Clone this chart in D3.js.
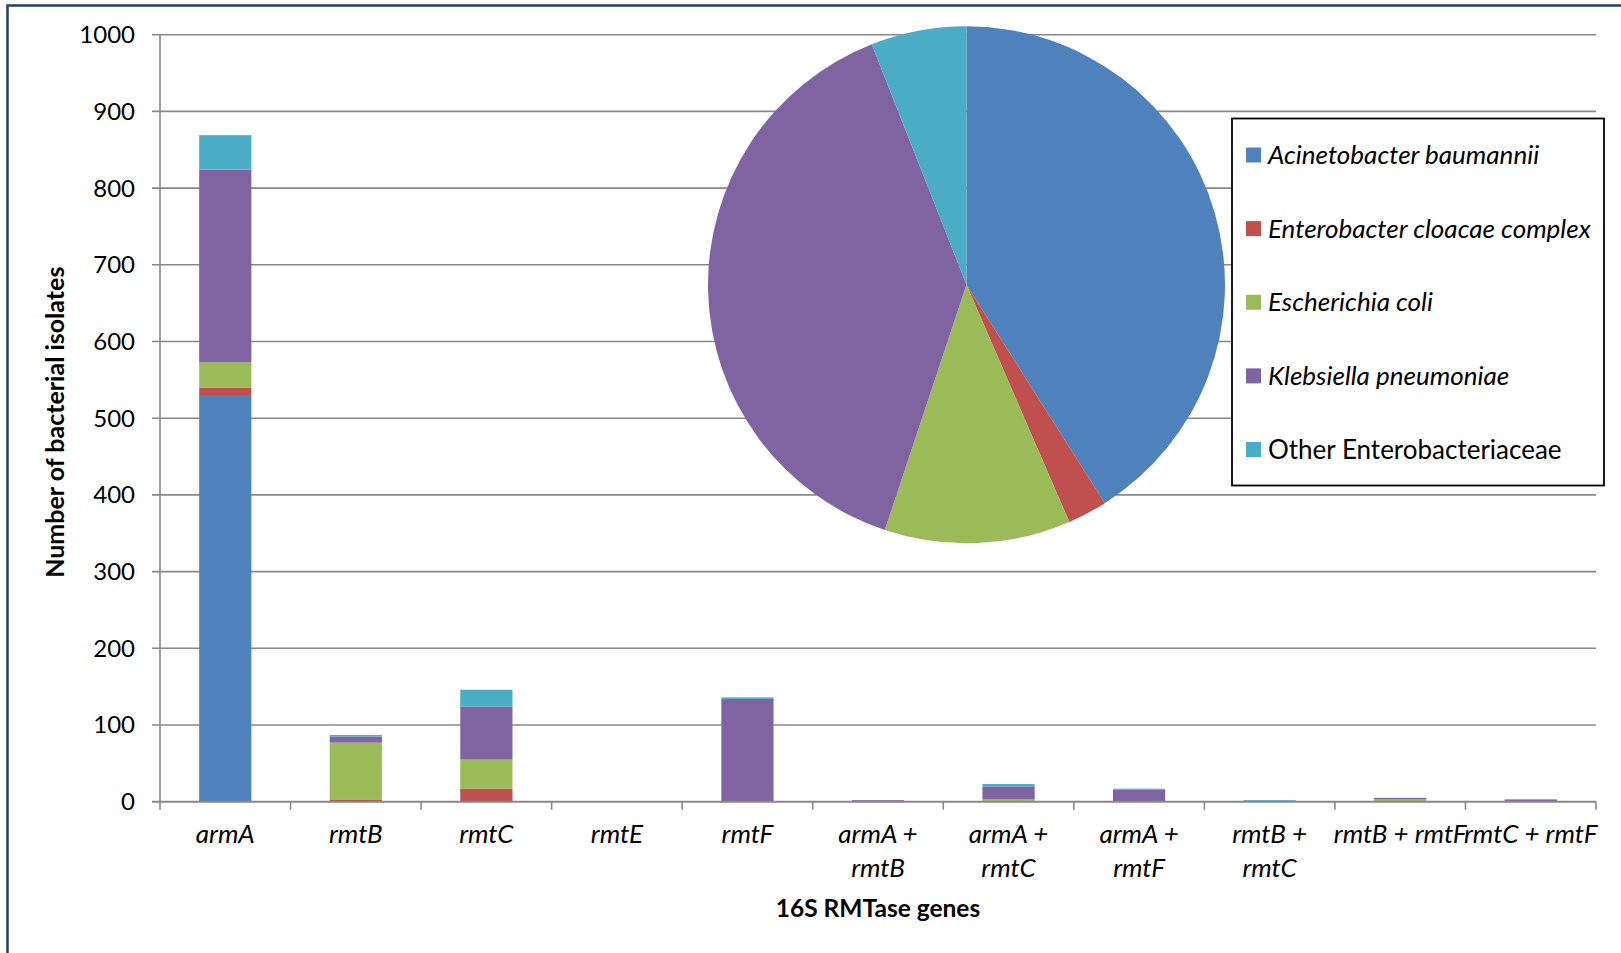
<!DOCTYPE html>
<html>
<head>
<meta charset="utf-8">
<script src="https://cdn.jsdelivr.net/npm/d3@7"></script>
<style>
  html, body { margin: 0; padding: 0; background: #ffffff; }
  svg { display: block; font-family: Lato, "Open Sans", sans-serif; }
</style>
</head>
<body>
<svg id="chart" width="1621" height="953"></svg>
<script>
// 16S RMTase genes (x categories), "\n" marks the wrapped label lines
const categories = [
  'armA', 'rmtB', 'rmtC', 'rmtE', 'rmtF',
  'armA +\nrmtB', 'armA +\nrmtC', 'armA +\nrmtF',
  'rmtB +\nrmtC', 'rmtB + rmtF', 'rmtC + rmtF',
];

const species = [
  'Acinetobacter baumannii',
  'Enterobacter cloacae complex',
  'Escherichia coli',
  'Klebsiella pneumoniae',
  'Other Enterobacteriaceae',
];
const italicSpecies = [true, true, true, true, false];
const colors = ['#4f81bd', '#c0504d', '#9bbb59', '#8064a2', '#4bacc6'];

// isolates per gene, one array per species (same order as categories)
const acinetobacter = [529, 0, 0, 0, 0, 0, 0, 0, 0, 0, 0];
const enterobacter = [11, 3, 17, 0, 0, 0, 1, 0, 0, 0, 0];
const ecoli = [33, 74, 38, 0, 0, 0, 2, 0, 0, 3, 0];
const klebsiella = [251, 8, 69, 0, 134, 2, 17, 16, 0, 2, 3];
const otherEntero = [45, 2, 22, 0, 2, 0, 3, 1, 2, 0, 0];

const yTicks = [0, 100, 200, 300, 400, 500, 600, 700, 800, 900, 1000];

const series = [acinetobacter, enterobacter, ecoli, klebsiella, otherEntero];

const rows = categories.map((c, i) => {
  const row = { category: c };
  species.forEach((s, j) => { row[s] = series[j][i]; });
  return row;
});

const svg = d3.select('#chart');

// outer frame (only left and top edges show)
svg.append('path')
  .attr('d', 'M7.5,953 L7.5,5.5 L1621,5.5')
  .attr('fill', 'none')
  .attr('stroke', '#243f60')
  .attr('stroke-width', 2.5);

const plot = { left: 160, right: 1596, top: 34.7, bottom: 801.7 };

const x = d3.scaleBand()
  .domain(categories)
  .range([plot.left, plot.right])
  .paddingInner(0.6)
  .paddingOuter(0.3);

const y = d3.scaleLinear()
  .domain([0, 1000])
  .range([plot.bottom, plot.top]);

const gridColor = '#888888';

// horizontal gridlines with short left ticks
svg.append('g')
  .selectAll('line')
  .data(yTicks.filter((d) => d > 0))
  .join('line')
  .attr('x1', plot.left - 8)
  .attr('x2', plot.right)
  .attr('y1', (d) => y(d))
  .attr('y2', (d) => y(d))
  .attr('stroke', gridColor)
  .attr('stroke-width', 1.6);

// y axis line
svg.append('line')
  .attr('x1', plot.left).attr('x2', plot.left)
  .attr('y1', plot.top).attr('y2', plot.bottom)
  .attr('stroke', gridColor)
  .attr('stroke-width', 1.6);

// y tick labels
svg.append('g')
  .selectAll('text')
  .data(yTicks)
  .join('text')
  .attr('x', 135)
  .attr('y', (d) => y(d))
  .attr('dy', '0.35em')
  .attr('text-anchor', 'end')
  .attr('font-size', 24)
  .attr('fill', '#000')
  .text((d) => d);

// stacked bars
const stack = d3.stack().keys(species);
const layers = stack(rows);

svg.append('g')
  .selectAll('g')
  .data(layers)
  .join('g')
  .attr('fill', (d, i) => colors[i])
  .selectAll('rect')
  .data((d) => d.filter((p) => p[1] > p[0]))
  .join('rect')
  .attr('x', (d) => x(d.data.category))
  .attr('width', x.bandwidth())
  .attr('y', (d) => y(d[1]))
  .attr('height', (d) => y(d[0]) - y(d[1]));

// x axis line and ticks
svg.append('line')
  .attr('x1', plot.left - 8).attr('x2', plot.right)
  .attr('y1', plot.bottom).attr('y2', plot.bottom)
  .attr('stroke', gridColor)
  .attr('stroke-width', 2);

const step = x.step();
const tickXs = categories.map((c) => x(c) - step * 0.3).concat([plot.right]);
svg.append('g')
  .selectAll('line')
  .data(tickXs)
  .join('line')
  .attr('x1', (d) => d).attr('x2', (d) => d)
  .attr('y1', plot.bottom).attr('y2', plot.bottom + 8)
  .attr('stroke', gridColor)
  .attr('stroke-width', 1.6);

// x labels
const xLabels = svg.append('g')
  .selectAll('text')
  .data(categories)
  .join('text')
  .attr('x', (d) => x(d) + x.bandwidth() / 2)
  .attr('y', 843)
  .attr('text-anchor', 'middle')
  .attr('font-size', 26)
  .attr('font-style', 'italic')
  .attr('fill', '#000');
xLabels.selectAll('tspan')
  .data((d) => d.split('\n'))
  .join('tspan')
  .attr('x', function () { return d3.select(this.parentNode).attr('x'); })
  .attr('dy', (d, i) => (i === 0 ? 0 : 33.5))
  .text((d) => d);

// axis titles
svg.append('text')
  .attr('x', (plot.left + plot.right) / 2)
  .attr('y', 917)
  .attr('text-anchor', 'middle')
  .attr('font-size', 24.5)
  .attr('font-weight', 'bold')
  .text('16S RMTase genes');

svg.append('text')
  .attr('transform', `translate(64,${(plot.top + plot.bottom) / 2 + 4}) rotate(-90)`)
  .attr('text-anchor', 'middle')
  .attr('font-size', 25)
  .attr('font-weight', 'bold')
  .text('Number of bacterial isolates');

// pie of totals per species
const totals = series.map((s) => d3.sum(s));
const pie = d3.pie().sort(null)(totals);
const arc = d3.arc().innerRadius(0).outerRadius(258.5);

svg.append('g')
  .attr('transform', 'translate(966.5,284.8)')
  .selectAll('path')
  .data(pie)
  .join('path')
  .attr('d', arc)
  .attr('fill', (d, i) => colors[i]);

// legend
const legend = svg.append('g');
legend.append('rect')
  .attr('x', 1232).attr('y', 118.5)
  .attr('width', 372).attr('height', 367)
  .attr('fill', '#fff')
  .attr('stroke', '#000')
  .attr('stroke-width', 1.8);

const legendY = d3.scalePoint()
  .domain(species)
  .range([155, 449.5]);

const items = legend.selectAll('g.item')
  .data(species)
  .join('g')
  .attr('class', 'item')
  .attr('transform', (d) => `translate(1246,${legendY(d)})`);
items.append('rect')
  .attr('x', 0).attr('y', -7.5)
  .attr('width', 15).attr('height', 15)
  .attr('fill', (d, i) => colors[i]);
items.append('text')
  .attr('x', 22)
  .attr('dy', '0.35em')
  .attr('font-size', 26)
  .attr('font-style', (d, i) => (italicSpecies[i] ? 'italic' : 'normal'))
  .attr('fill', '#000')
  .text((d) => d);
</script>
</body>
</html>
